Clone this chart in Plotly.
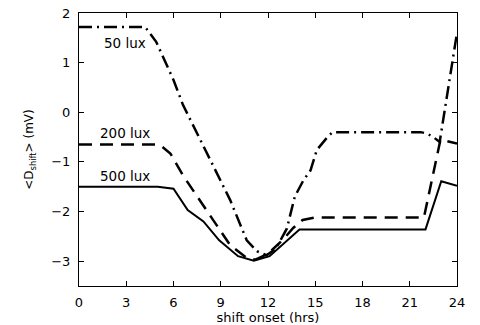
import plotly.graph_objects as go

# 500 lux (solid)
x500 = [0, 5.0, 6.0, 6.9, 7.9, 8.9, 10.1, 11.1, 12.1, 13.1, 14.0, 22.0, 23.0, 24.0]
y500 = [-1.5, -1.5, -1.54, -1.97, -2.2, -2.58, -2.9, -2.99, -2.9, -2.62, -2.36, -2.36, -1.39, -1.48]

# 200 lux (dashed)
x200 = [0, 4.9, 5.3, 5.8, 6.6, 7.3, 8.1, 8.85, 9.6, 10.6, 11.2, 12.0, 13.0, 13.6, 14.2, 15.0, 21.9, 22.95, 24.0]
y200 = [-0.65, -0.65, -0.7, -0.83, -1.27, -1.6, -1.97, -2.34, -2.68, -2.92, -2.97, -2.85, -2.55, -2.33, -2.17, -2.12, -2.12, -0.55, -0.63]

# 50 lux (dash-dot)
x50 = [0, 4.2, 4.9, 6.0, 6.6, 7.5, 8.95, 9.6, 10.65, 11.3, 11.9, 12.5, 13.2, 13.7, 14.25, 14.7, 15.1, 15.8, 16.1, 21.7, 22.1, 22.5, 22.9, 24.0]
y50 = [1.72, 1.72, 1.42, 0.65, 0.15, -0.42, -1.37, -1.77, -2.58, -2.8, -2.88, -2.75, -2.34, -1.7, -1.37, -1.17, -0.76, -0.49, -0.4, -0.4, -0.43, -0.5, -0.6, 1.6]

labels = ["50 lux", "200 lux", "500 lux"]
label_x = [2.9, 2.9, 2.9]
label_y = [1.4, -0.42, -1.28]

xticks = [0, 3, 6, 9, 12, 15, 18, 21, 24]
yticks = [2, 1, 0, -1, -2, -3]

fig = go.Figure()
fig.add_trace(go.Scatter(x=x500, y=y500, mode="lines", name="500 lux",
                         line=dict(color="black", width=2)))
fig.add_trace(go.Scatter(x=x200, y=y200, mode="lines", name="200 lux",
                         line=dict(color="black", width=2.5, dash="13px,8px")))
fig.add_trace(go.Scatter(x=x50, y=y50, mode="lines", name="50 lux",
                         line=dict(color="black", width=2.5, dash="13px,5px,2px,5px")))

for t, xx, yy in zip(labels, label_x, label_y):
    fig.add_annotation(x=xx, y=yy, text=t, showarrow=False,
                       font=dict(family="DejaVu Sans", size=13.5, color="black"))

axis_common = dict(showline=True, linecolor="black", linewidth=1.2, mirror="ticks",
                   ticks="inside", ticklen=5, tickcolor="black", showgrid=False,
                   zeroline=False, automargin=False,
                   tickfont=dict(family="DejaVu Sans", size=13, color="black"))

fig.update_xaxes(range=[0, 24], tickvals=xticks, ticktext=[str(v) for v in xticks],
                 ticklabelstandoff=4,
                 title=dict(text="shift onset (hrs)", standoff=2,
                            font=dict(family="DejaVu Sans", size=13, color="black")),
                 **axis_common)
fig.update_yaxes(range=[-3.5, 2], tickvals=yticks,
                 ticktext=[str(v).replace("-", "\u2212") for v in yticks],
                 ticklabelstandoff=5,
                 title=dict(text="&lt;D<sub>shift</sub>&gt; (mV)", standoff=14,
                            font=dict(family="DejaVu Sans", size=12, color="black")),
                 **axis_common)

fig.update_layout(width=480, height=325, showlegend=False,
                  paper_bgcolor="white", plot_bgcolor="white",
                  margin=dict(l=79, r=23, t=13, b=39))

fig.write_html("out.html", config={"displayModeBar": False},
               post_script="document.body.style.margin='0';document.body.style.overflow='hidden';")
